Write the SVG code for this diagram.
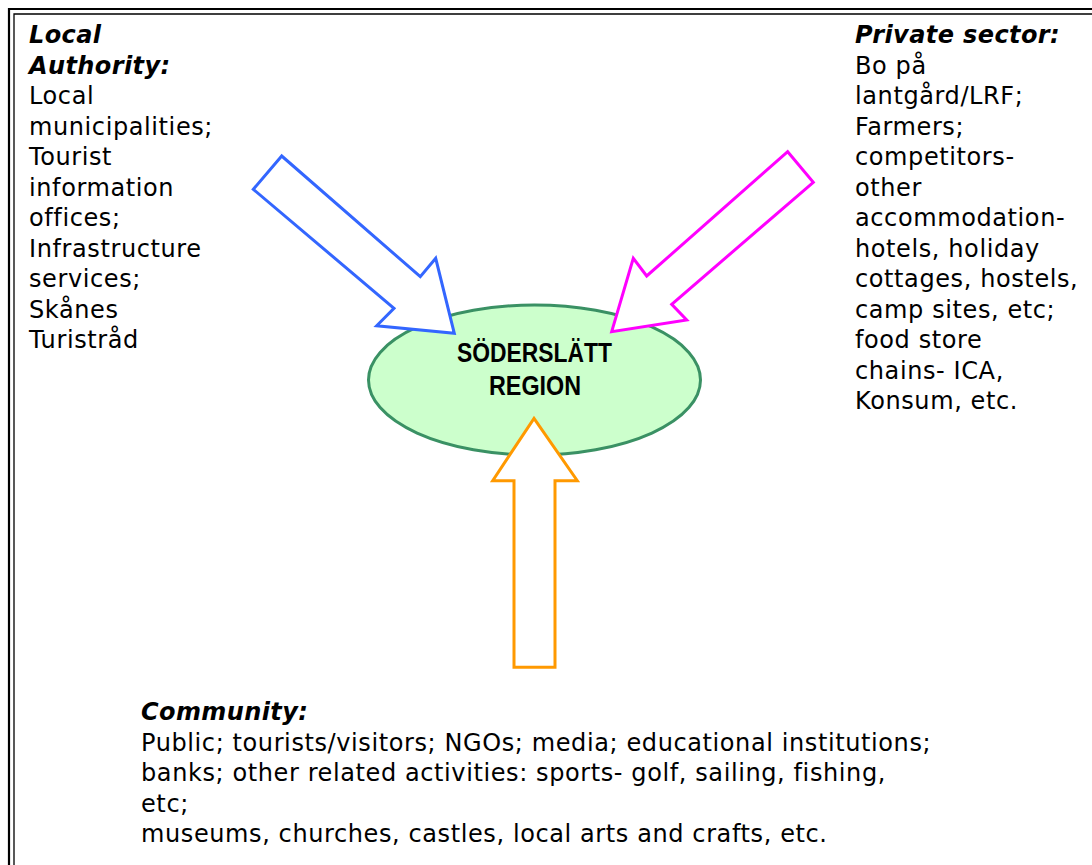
<svg xmlns="http://www.w3.org/2000/svg" width="1092" height="865" viewBox="0 0 1092 865">
<style>
.body{font-family:"DejaVu Sans",Verdana,sans-serif;font-size:24px;letter-spacing:0.6px;fill:#000}
.head{font-family:"DejaVu Sans",Verdana,sans-serif;font-size:24px;font-style:italic;font-weight:bold;letter-spacing:0.4px;fill:#000}
.center{font-family:"Liberation Sans",Arial,sans-serif;font-size:27px;font-weight:bold;fill:#000}
.arrow{fill:#fff;stroke-width:3;stroke-linejoin:miter}
</style>
<rect width="1092" height="865" fill="#fff"/>
<g id="frame" fill="none" stroke="#000">
<path d="M9,870 V9 H1100" stroke-width="2.2"/>
<path d="M14,870 V14 H1100" stroke-width="1.3"/>
</g>
<g id="region">
<ellipse cx="534.5" cy="380" rx="166" ry="75" fill="#ccffcc" stroke="#3a9164" stroke-width="3"/>
<text class="center" x="534.5" y="362" text-anchor="middle" textLength="155" lengthAdjust="spacingAndGlyphs">SÖDERSLÄTT</text>
<text class="center" x="535" y="395" text-anchor="middle" textLength="92" lengthAdjust="spacingAndGlyphs">REGION</text>
</g>
<g id="connectors">
<polygon class="arrow" stroke="#3366ff" points="281.7,156 253.3,189.3 394,308.3 376.7,325.7 454.3,333.3 435.7,258.3 420.3,276.7"/>
<polygon class="arrow" stroke="#ff00ff" points="787.7,151.7 813.3,182.3 671.7,304.3 686.7,320 611.7,331.7 633.3,258.3 646.7,276"/>
<polygon class="arrow" stroke="#ff9900" points="534,418.3 577.3,480.7 555,480.7 555,667.3 514,667.3 514,480.7 492.7,480.7"/>
</g>
<g id="local-authority">
<text class="head" x="29" y="43">Local</text>
<text class="head" x="29" y="73.5">Authority:</text>
<text class="body" x="29" y="104">Local</text>
<text class="body" x="29" y="134.5">municipalities;</text>
<text class="body" x="29" y="165">Tourist</text>
<text class="body" x="29" y="195.5">information</text>
<text class="body" x="29" y="226">offices;</text>
<text class="body" x="29" y="256.5">Infrastructure</text>
<text class="body" x="29" y="287">services;</text>
<text class="body" x="29" y="317.5">Skånes</text>
<text class="body" x="29" y="348">Turistråd</text>
</g>
<g id="private-sector">
<text class="head" x="855" y="43">Private sector:</text>
<text class="body" x="855" y="73.5">Bo på</text>
<text class="body" x="855" y="104">lantgård/LRF;</text>
<text class="body" x="855" y="134.5">Farmers;</text>
<text class="body" x="855" y="165">competitors-</text>
<text class="body" x="855" y="195.5">other</text>
<text class="body" x="855" y="226">accommodation-</text>
<text class="body" x="855" y="256.5">hotels, holiday</text>
<text class="body" x="855" y="287">cottages, hostels,</text>
<text class="body" x="855" y="317.5">camp sites, etc;</text>
<text class="body" x="855" y="348">food store</text>
<text class="body" x="855" y="378.5">chains- ICA,</text>
<text class="body" x="855" y="409">Konsum, etc.</text>
</g>
<g id="community">
<text class="head" x="141" y="720">Community:</text>
<text class="body" x="141" y="750.5">Public; tourists/visitors; NGOs; media; educational institutions;</text>
<text class="body" x="141" y="781">banks; other related activities: sports- golf, sailing, fishing,</text>
<text class="body" x="141" y="811.5">etc;</text>
<text class="body" x="141" y="842">museums, churches, castles, local arts and crafts, etc.</text>
</g>
</svg>
